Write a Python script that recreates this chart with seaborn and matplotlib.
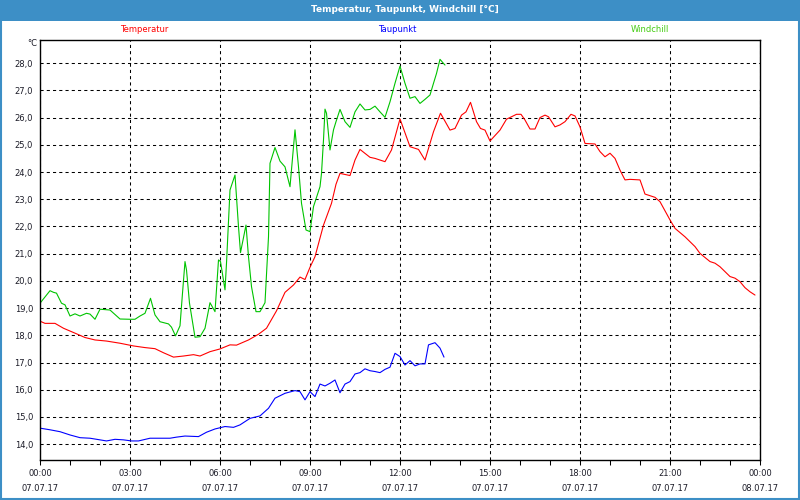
import numpy as np
import pandas as pd
import matplotlib
matplotlib.use("Agg")
import matplotlib.pyplot as plt
import matplotlib.dates as mdates
from matplotlib.ticker import FuncFormatter
from matplotlib.patches import Rectangle
import seaborn as sns

# ---------------- data (minutes after 07.07.17 00:00, °C) ----------------
temp_min = [0, 10, 30, 47, 70, 90, 110, 133, 160, 187, 210, 230, 247, 267, 287, 307, 320, 340,
            360, 380, 393, 417, 437, 453, 473, 490, 507, 520, 530, 540, 550, 567, 583, 592, 600,
            620, 630, 640, 660, 670, 690, 703, 720, 740, 757, 770, 787, 801, 820, 830, 843, 852,
            861, 873, 881, 890, 900, 920, 933, 943, 953, 962, 970, 980, 990, 1000, 1010, 1017,
            1030, 1040, 1050, 1062, 1070, 1080, 1090, 1110, 1120, 1130, 1140, 1150, 1160, 1170,
            1180, 1200, 1210, 1230, 1240, 1260, 1270, 1290, 1310, 1320, 1340, 1350, 1360, 1380,
            1390, 1400, 1410, 1420, 1430]
temp_val = [18.52, 18.44, 18.44, 18.26, 18.08, 17.92, 17.83, 17.79, 17.71, 17.61, 17.55, 17.51,
            17.36, 17.20, 17.24, 17.29, 17.24, 17.40, 17.50, 17.65, 17.64, 17.83, 18.04, 18.26,
            18.90, 19.58, 19.85, 20.14, 20.05, 20.50, 20.89, 22.05, 22.85, 23.55, 23.95, 23.87,
            24.44, 24.83, 24.54, 24.50, 24.38, 24.81, 25.95, 24.93, 24.83, 24.44, 25.48, 26.16,
            25.54, 25.60, 26.09, 26.21, 26.56, 25.85, 25.60, 25.54, 25.14, 25.54, 25.94, 26.03,
            26.12, 26.12, 25.91, 25.58, 25.58, 26.00, 26.09, 26.03, 25.66, 25.73, 25.85, 26.12,
            26.06, 25.66, 25.05, 25.03, 24.75, 24.56, 24.69, 24.50, 24.07, 23.71, 23.73, 23.71,
            23.19, 23.07, 22.91, 22.24, 21.93, 21.62, 21.26, 21.01, 20.71, 20.65, 20.52, 20.16,
            20.10, 19.97, 19.75, 19.60, 19.48]

dew_min = [0, 20, 40, 60, 80, 100, 120, 133, 150, 167, 183, 197, 220, 240, 260, 273, 290, 317,
           333, 350, 370, 387, 400, 420, 440, 457, 470, 490, 510, 520, 530, 540, 550, 560, 570,
           580, 590, 600, 610, 620, 630, 640, 650, 660, 670, 680, 690, 700, 710, 720, 730, 740,
           750, 760, 770, 777, 790, 800, 808]
dew_val = [14.59, 14.53, 14.46, 14.34, 14.24, 14.22, 14.16, 14.12, 14.18, 14.16, 14.12, 14.12,
           14.22, 14.22, 14.22, 14.26, 14.30, 14.28, 14.44, 14.56, 14.65, 14.62, 14.71, 14.95,
           15.04, 15.32, 15.69, 15.87, 15.97, 15.93, 15.63, 15.93, 15.75, 16.21, 16.14, 16.24,
           16.36, 15.89, 16.21, 16.30, 16.58, 16.63, 16.77, 16.70, 16.67, 16.63, 16.75, 16.83,
           17.34, 17.22, 16.91, 17.07, 16.88, 16.95, 16.95, 17.65, 17.73, 17.53, 17.20]

wc_min = [0, 20, 27, 33, 43, 50, 60, 70, 80, 93, 100, 110, 120, 140, 160, 180, 190, 200, 210,
          221, 230, 240, 257, 263, 271, 280, 285, 290, 293, 299, 310, 320, 330, 340, 350, 357,
          361, 370, 373, 380, 390, 397, 401, 412, 417, 423, 432, 440, 450, 457, 460, 470, 480,
          490, 500, 510, 517, 523, 532, 540, 547, 560, 563, 567, 570, 573, 580, 587, 592, 600,
          610, 620, 630, 640, 650, 660, 670, 680, 690, 700, 710, 720, 730, 740, 750, 760, 770,
          780, 787, 793, 800, 807, 810]
wc_val = [19.18, 19.64, 19.58, 19.55, 19.18, 19.12, 18.71, 18.79, 18.71, 18.81, 18.78, 18.59,
          18.96, 18.93, 18.60, 18.59, 18.59, 18.71, 18.81, 19.36, 18.75, 18.50, 18.42, 18.30,
          17.98, 18.35, 19.55, 20.71, 20.40, 19.18, 17.93, 17.95, 18.26, 19.20, 18.87, 20.77,
          20.71, 19.67, 20.65, 23.34, 23.89, 21.99, 21.04, 22.05, 20.89, 19.79, 18.87, 18.87,
          19.20, 21.62, 24.32, 24.90, 24.40, 24.19, 23.46, 25.55, 24.19, 22.85, 21.87, 21.81,
          22.73, 23.46, 23.95, 25.18, 26.31, 26.16, 24.81, 25.55, 25.85, 26.30, 25.85, 25.64,
          26.21, 26.50, 26.28, 26.30, 26.42, 26.21, 26.01, 26.58, 27.26, 27.89, 27.26, 26.71,
          26.77, 26.52, 26.67, 26.83, 27.26, 27.62, 28.14, 27.99, 27.93]

series_names = ["Temperatur", "Taupunkt", "Windchill"]
title_text = "Temperatur, Taupunkt, Windchill [°C]"
y_ticks = list(range(14, 29))

start = pd.Timestamp("2017-07-07 00:00")
end = pd.Timestamp("2017-07-08 00:00")


def to_time(mins):
    return start + pd.to_timedelta(mins, unit="min")


df_t = pd.DataFrame({"time": to_time(temp_min), "value": temp_val})
df_d = pd.DataFrame({"time": to_time(dew_min), "value": dew_val})
df_w = pd.DataFrame({"time": to_time(wc_min), "value": wc_val})

# ---------------- style ----------------
sns.set_theme(style="white")
plt.rcParams["font.family"] = ["DejaVu Sans"]

BLUE_BAR = "#3d8fc6"
TXT = "#1c1c28"

fig = plt.figure(figsize=(8, 5), dpi=100, facecolor="white")
ax = fig.add_axes([40 / 800, 40 / 500, 720 / 800, 420 / 500])
ax.set_facecolor("white")

sns.lineplot(data=df_t, x="time", y="value", color="#ff0000", linewidth=0.8, ax=ax)
sns.lineplot(data=df_d, x="time", y="value", color="#0000ff", linewidth=0.8, ax=ax)
sns.lineplot(data=df_w, x="time", y="value", color="#00c400", linewidth=0.8, ax=ax)

ax.set_xlim(start, end)
ax.set_ylim(13.42, 28.85)
ax.set_xlabel("")
ax.set_ylabel("")

ax.xaxis.set_major_locator(mdates.HourLocator(byhour=range(0, 24, 3)))
ax.xaxis.set_minor_locator(mdates.HourLocator())
ax.xaxis.set_major_formatter(mdates.DateFormatter("%H:%M\n%d.%m.%y"))
ax.set_yticks(y_ticks)
ax.yaxis.set_major_formatter(FuncFormatter(lambda v, p: f"{v:.1f}".replace(".", ",")))

ax.grid(True, which="major", color="black", linestyle=(0, (3, 3)), linewidth=0.75)
ax.tick_params(axis="x", which="both", direction="out", length=3.5, width=0.75,
               color="black", bottom=True, labelsize=6, labelcolor=TXT, pad=3)
ax.tick_params(axis="y", which="both", length=0, labelsize=6, labelcolor=TXT, pad=5)
for lbl in ax.get_xticklabels():
    lbl.set_linespacing(1.9)
for s in ax.spines.values():
    s.set_visible(True)
    s.set_color("black")
    s.set_linewidth(1.0)

# title bar
fig.patches.append(Rectangle((0, 1 - 21 / 500), 1, 21 / 500, transform=fig.transFigure,
                             facecolor=BLUE_BAR, edgecolor="none", zorder=0))
fig.patches.append(Rectangle((0.001, 0.002), 0.998, 0.996, transform=fig.transFigure,
                             facecolor="none", edgecolor=BLUE_BAR, linewidth=1.5, zorder=5))
fig.text(405 / 800, 1 - 10 / 500, title_text, color="white", fontsize=6.5,
         fontweight="bold", ha="center", va="center")

# series labels
fig.text(144 / 800, 1 - 30 / 500, series_names[0], color="#ff0000", fontsize=6,
         ha="center", va="center")
fig.text(397 / 800, 1 - 30 / 500, series_names[1], color="#0000ff", fontsize=6,
         ha="center", va="center")
fig.text(650 / 800, 1 - 30 / 500, series_names[2], color="#44cc11", fontsize=6,
         ha="center", va="center")
fig.text(37 / 800, 1 - 44 / 500, "°C", color=TXT, fontsize=6, ha="right", va="center")

fig.savefig("out.png", dpi=100, facecolor="white")
